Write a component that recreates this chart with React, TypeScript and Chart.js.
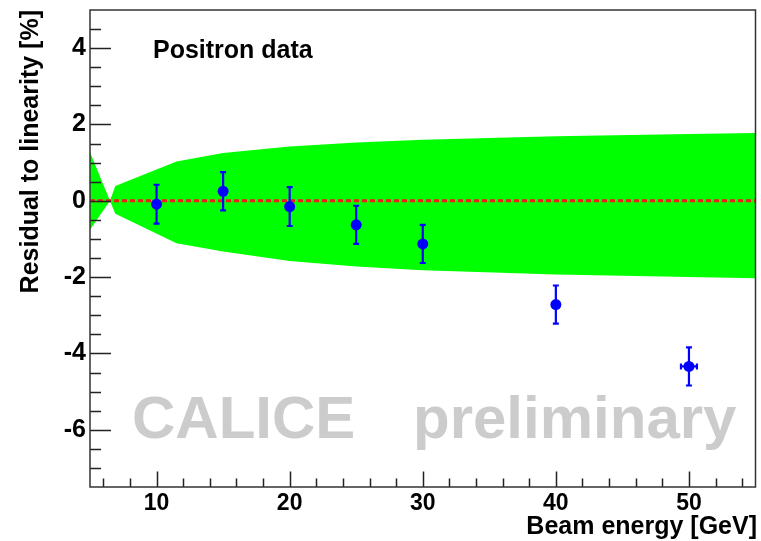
import React, { useEffect, useRef } from "react";
import { Chart, registerables } from "chart.js";

Chart.register(...registerables);

// ---- data ----
const energies = [10, 15, 20, 25, 30, 40, 50];
const residuals = [-0.09, 0.25, -0.15, -0.63, -1.13, -2.72, -4.34];
const yErrors = [0.51, 0.5, 0.51, 0.5, 0.5, 0.5, 0.5];
const xErrors = [0, 0, 0, 0, 0, 0, 0.6];

const bandEnergies = [5, 6.5, 6.9, 11.5, 15, 20, 25, 30, 40, 50, 55];
const bandUpper = [1.27, 0, 0.39, 1.03, 1.25, 1.42, 1.53, 1.6, 1.69, 1.75, 1.78];
const bandLower = [-0.76, 0, -0.34, -1.11, -1.33, -1.58, -1.72, -1.82, -1.93, -2.0, -2.03];

const zeroLineX = [5, 55];
const zeroLineY = [0, 0];

const xMajorTicks = [10, 20, 30, 40, 50];
const xMinorTicks = [6, 8, 12, 14, 16, 18, 22, 24, 26, 28, 32, 34, 36, 38, 42, 44, 46, 48, 52, 54];
const yMajorTicks = [-6, -4, -2, 0, 2, 4];
const yMinorTicks = [-7, -6.5, -5.5, -5, -4.5, -3.5, -3, -2.5, -1.5, -1, -0.5, 0.5, 1, 1.5, 2.5, 3, 3.5, 4.5];

const xTitle = "Beam energy [GeV]";
const yTitle = "Residual to linearity [%]";
const dataLabel = "Positron data";
const watermark1 = "CALICE";
const watermark2 = "preliminary";

const FONT = '"Liberation Sans", Arial, Helvetica, sans-serif';
const POINTS_INDEX = 3;

const rootStyle = {
  id: "rootStyle",
  beforeDatasetsDraw(chart: any) {
    const ctx = chart.ctx;
    ctx.save();
    ctx.fillStyle = "#cccccc";
    ctx.font = `bold 60px ${FONT}`;
    ctx.textBaseline = "alphabetic";
    ctx.textAlign = "left";
    ctx.fillText(watermark1, 132, 438);
    ctx.fillText(watermark2, 413, 438);
    ctx.restore();
  },
  beforeDatasetDraw(chart: any, args: any) {
    if (args.index !== POINTS_INDEX) return;
    const ctx = chart.ctx;
    const xs = chart.scales.x;
    const ys = chart.scales.y;
    ctx.save();
    ctx.strokeStyle = "#0000ff";
    ctx.lineWidth = 2.2;
    for (let i = 0; i < energies.length; i++) {
      const px = xs.getPixelForValue(energies[i]);
      const py = ys.getPixelForValue(residuals[i]);
      const top = ys.getPixelForValue(residuals[i] + yErrors[i]);
      const bot = ys.getPixelForValue(residuals[i] - yErrors[i]);
      ctx.beginPath();
      ctx.moveTo(px, top);
      ctx.lineTo(px, bot);
      ctx.moveTo(px - 3, top);
      ctx.lineTo(px + 3, top);
      ctx.moveTo(px - 3, bot);
      ctx.lineTo(px + 3, bot);
      ctx.stroke();
      if (xErrors[i] > 0) {
        const l = xs.getPixelForValue(energies[i] - xErrors[i]);
        const r = xs.getPixelForValue(energies[i] + xErrors[i]);
        ctx.beginPath();
        ctx.moveTo(l, py);
        ctx.lineTo(r, py);
        ctx.moveTo(l, py - 3);
        ctx.lineTo(l, py + 3);
        ctx.moveTo(r, py - 3);
        ctx.lineTo(r, py + 3);
        ctx.stroke();
      }
    }
    ctx.restore();
  },
  afterDatasetsDraw(chart: any) {
    const ctx = chart.ctx;
    const xs = chart.scales.x;
    const ys = chart.scales.y;
    const a = chart.chartArea;
    ctx.save();
    ctx.strokeStyle = "#222222";
    ctx.lineWidth = 1.5;
    ctx.beginPath();
    for (const v of xMajorTicks) {
      const p = Math.round(xs.getPixelForValue(v)) + 0.5;
      ctx.moveTo(p, a.bottom);
      ctx.lineTo(p, a.bottom - 15.5);
    }
    for (const v of xMinorTicks) {
      const p = Math.round(xs.getPixelForValue(v)) + 0.5;
      ctx.moveTo(p, a.bottom);
      ctx.lineTo(p, a.bottom - 8.5);
    }
    for (const v of yMajorTicks) {
      const p = Math.round(ys.getPixelForValue(v)) + 0.5;
      ctx.moveTo(a.left, p);
      ctx.lineTo(a.left + 21, p);
    }
    for (const v of yMinorTicks) {
      const p = Math.round(ys.getPixelForValue(v)) + 0.5;
      ctx.moveTo(a.left, p);
      ctx.lineTo(a.left + 11, p);
    }
    ctx.stroke();
    ctx.strokeStyle = "#333333";
    ctx.lineWidth = 1.5;
    ctx.strokeRect(a.left, a.top, a.right - a.left, a.bottom - a.top);
    ctx.restore();
  },
  afterDraw(chart: any) {
    const ctx = chart.ctx;
    ctx.save();
    ctx.fillStyle = "#000000";
    ctx.font = `bold 25px ${FONT}`;
    ctx.textBaseline = "alphabetic";
    ctx.textAlign = "left";
    ctx.fillText(dataLabel, 153, 58);
    ctx.textAlign = "right";
    ctx.fillText(xTitle, 757, 534);
    ctx.translate(38, 10);
    ctx.rotate(-Math.PI / 2);
    ctx.textAlign = "right";
    ctx.fillText(yTitle, 0, 0);
    ctx.restore();
  },
};

export default function App() {
  const canvasRef = useRef<HTMLCanvasElement | null>(null);

  useEffect(() => {
    if (!canvasRef.current) return;
    const chart = new Chart(canvasRef.current, {
      type: "scatter",
      data: {
        datasets: [
          {
            type: "line",
            label: "band upper",
            data: bandEnergies.map((x, i) => ({ x, y: bandUpper[i] })),
            fill: "+1",
            backgroundColor: "#00ff00",
            borderWidth: 0,
            borderColor: "rgba(0,0,0,0)",
            pointRadius: 0,
            tension: 0,
            order: 3,
          } as any,
          {
            type: "line",
            label: "band lower",
            data: bandEnergies.map((x, i) => ({ x, y: bandLower[i] })),
            fill: false,
            backgroundColor: "#00ff00",
            borderWidth: 0,
            borderColor: "rgba(0,0,0,0)",
            pointRadius: 0,
            tension: 0,
            order: 4,
          } as any,
          {
            type: "line",
            label: "zero",
            data: zeroLineX.map((x, i) => ({ x, y: zeroLineY[i] })),
            fill: false,
            borderColor: "#e8201a",
            borderWidth: 3,
            borderDash: [5, 3],
            pointRadius: 0,
            order: 2,
          } as any,
          {
            type: "scatter",
            label: dataLabel,
            data: energies.map((x, i) => ({ x, y: residuals[i] })),
            backgroundColor: "#0000ff",
            borderColor: "#0000ff",
            pointRadius: 5.5,
            borderWidth: 0,
            order: 1,
          } as any,
        ],
      },
      options: {
        responsive: false,
        animation: false,
        events: [],
        layout: { padding: { left: 0, top: 10, right: 5, bottom: 0 } },
        plugins: {
          legend: { display: false },
          tooltip: { enabled: false },
          title: { display: false },
        },
        scales: {
          x: {
            type: "linear",
            min: 5,
            max: 55,
            grid: { display: false, drawTicks: false },
            border: { display: false },
            afterBuildTicks: (scale: any) => {
              scale.ticks = xMajorTicks.map((v) => ({ value: v }));
            },
            afterFit: (scale: any) => {
              scale.height = 54;
              scale.paddingLeft = 0;
              scale.paddingRight = 0;
            },
            ticks: {
              autoSkip: false,
              maxRotation: 0,
              padding: 3,
              color: "#000000",
              font: { family: FONT, size: 23, weight: "bold" },
              callback: (v: any) => String(v),
            },
          },
          y: {
            type: "linear",
            min: -7.5,
            max: 5,
            grid: { display: false, drawTicks: false },
            border: { display: false },
            afterBuildTicks: (scale: any) => {
              scale.ticks = yMajorTicks.map((v) => ({ value: v }));
            },
            afterFit: (scale: any) => {
              scale.width = 90;
              scale.paddingTop = 0;
              scale.paddingBottom = 0;
            },
            ticks: {
              autoSkip: false,
              padding: 4,
              color: "#000000",
              font: { family: FONT, size: 25, weight: "bold" },
              callback: (v: any) => String(v),
            },
          },
        },
      } as any,
      plugins: [rootStyle as any],
    });
    return () => chart.destroy();
  }, []);

  return (
    <div style={{ position: "absolute", left: 0, top: 0, width: 761, height: 541, background: "#ffffff" }}>
      <canvas ref={canvasRef} width={761} height={541} style={{ display: "block" }} />
    </div>
  );
}
